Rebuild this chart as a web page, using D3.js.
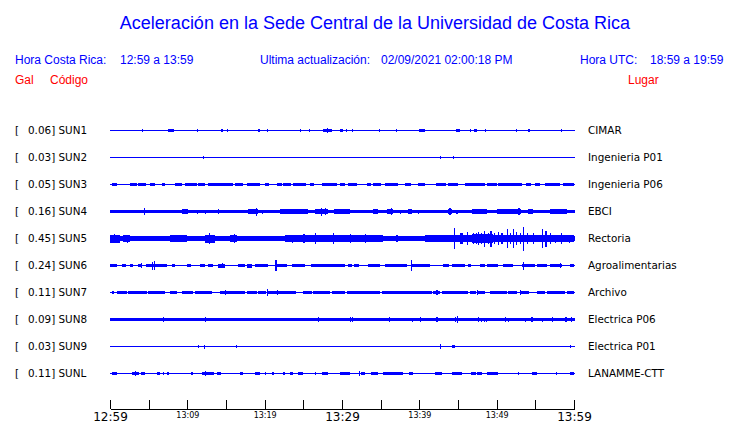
<!DOCTYPE html>
<html><head><meta charset="utf-8">
<script src="https://cdn.jsdelivr.net/npm/d3@7"></script>
<style>
html,body{margin:0;padding:0;background:#fff;}
svg{display:block;}
</style></head>
<body>
<svg id="chart" width="740" height="423"></svg>
<script>
// ---------------- DATA ----------------
const title = "Aceleración en la Sede Central de la Universidad de Costa Rica";
const stations = ["SUN1","SUN2","SUN3","SUN4","SUN5","SUN6","SUN7","SUN8","SUN9","SUNL"];
const peakGal = ["0.06","0.03","0.05","0.16","0.45","0.24","0.11","0.09","0.03","0.11"];
const places = ["CIMAR","Ingenieria P01","Ingenieria P06","EBCI","Rectoria","Agroalimentarias","Archivo","Electrica P06","Electrica P01","LANAMME-CTT"];
const tickMinutes = [0,5,10,15,20,25,30,35,40,45,50,55,60];
const bigTickLabels = ["12:59","13:29","13:59"];
// continuous band half-amplitude (gal) per station
const baseAmp = [0,0,0,0.07,0.1,0,0,0.07,0,0];
// blocks: [startMinute, endMinute, halfAmplitudeGal]
const sun1Blocks = [[7.5,8.3,0.04],[27.5,28.7,0.07],[29.7,30.1,0.06],[40,40.7,0.04],[44.8,45.3,0.04],[47.1,47.5,0.06]];
const sun2Blocks = [];
const sun3Blocks = [[0.2,0.9,0.055],[2.6,3.5,0.055],[3.6,4.7,0.05],[5.2,5.8,0.055],[6.7,7.1,0.055],[8.4,9.3,0.055],[9.7,11.2,0.055],[11.4,12.3,0.055],[12.7,15.9,0.055],[16.2,17.2,0.055],[17.7,19.4,0.055],[20,20.6,0.055],[21.6,22.2,0.055],[22.4,23.4,0.055],[23.7,25.4,0.055],[25.9,26.4,0.055],[27.4,29.3,0.055],[29.7,30.4,0.055],[30.8,31.9,0.055],[33.2,33.8,0.055],[34,35.1,0.055],[35.6,37.3,0.055],[38.1,38.9,0.055],[39.8,40.7,0.055],[42.2,43.5,0.05],[43.7,45,0.05],[45.9,48.5,0.055],[48.8,50,0.055],[50.2,53.3,0.05],[53.8,54.4,0.055],[54.9,55.6,0.055],[56.3,58.2,0.055],[58.6,60,0.055]];
const sun4Blocks = [[9.3,10.1,0.08],[17.8,19.1,0.085],[22,25.6,0.085],[26.5,28.2,0.095],[29,31,0.08],[34,34.7,0.08],[35.8,36.6,0.09],[38.5,39,0.085],[43.7,44.2,0.095],[46.8,48.7,0.085],[50,53.2,0.085],[54,54.7,0.08],[56.9,59.1,0.08]];
const sun5Blocks = [[0,1.3,0.15],[1.7,2.6,0.13],[3.6,4.9,0.11],[7.8,10,0.13],[12.3,13.6,0.15],[15.5,16.4,0.14],[18.8,19.1,0.11],[22.6,35.3,0.13],[37,37.3,0.13],[38.4,39,0.11],[40.7,60,0.14],[46.8,49.5,0.18]];
const sun6Blocks = [[0,0.9,0.055],[1.5,2.1,0.055],[2.6,3,0.055],[3.6,4.1,0.07],[4.6,7.4,0.065],[8,8.4,0.055],[10,10.5,0.055],[11.6,12.3,0.065],[12.7,13.3,0.065],[14,14.9,0.075],[16.5,17.5,0.055],[17.7,18.4,0.075],[18.8,20.4,0.065],[21.3,22.9,0.065],[23.5,25.2,0.055],[26,30.4,0.055],[30.8,31.3,0.055],[31.6,32.2,0.055],[33.4,34.9,0.055],[35.6,38.4,0.06],[39,41.4,0.055],[43.1,43.8,0.055],[44.2,45.9,0.055],[46.3,46.7,0.055],[47.8,48.5,0.055],[48.7,50.2,0.055],[50.8,52.1,0.055],[53.3,55,0.055],[55.2,56.5,0.055],[56.9,58.4,0.055],[59.5,60,0.055]];
const sun7Blocks = [[0.9,2.2,0.062],[2.3,4.8,0.062],[4.9,7.1,0.062],[7.8,8.7,0.062],[9.3,10.7,0.062],[11,13.2,0.062],[14.2,17.5,0.062],[17.7,19,0.062],[19.2,20.2,0.062],[20.4,21.6,0.062],[21.7,24,0.062],[25,26.1,0.062],[26.3,28.5,0.062],[28.7,30.4,0.062],[30.6,34.9,0.062],[35.2,41.6,0.062],[41.8,42.7,0.062],[42.9,46.3,0.062],[46.6,47.3,0.062],[47.6,48.5,0.062],[49.1,51.3,0.062],[51.5,52.6,0.062],[53.2,54.2,0.062],[55.2,56.3,0.062],[56.5,58.8,0.062],[59.1,60,0.062]];
const sun8Blocks = [];
const sun9Blocks = [[44.2,44.6,0.05]];
const sunLBlocks = [[0.2,0.9,0.05],[2.8,3.7,0.065],[4,4.5,0.05],[6.1,6.5,0.065],[6.8,7,0.05],[7.4,7.6,0.05],[10.5,10.7,0.05],[11.9,13.4,0.07],[13.8,14.4,0.05],[16.8,17.2,0.065],[18.8,19.4,0.05],[22.4,22.6,0.05],[23.3,23.7,0.05],[24.3,25,0.05],[27.4,28.2,0.065],[29.7,31,0.05],[32.5,33,0.05],[33.8,34.7,0.05],[35.3,36.2,0.05],[36.2,37.9,0.065],[38.6,39.2,0.05],[42,42.9,0.05],[44.2,45.5,0.065],[46.7,47.3,0.05],[47.4,48.1,0.05],[48.7,50.2,0.04],[54.6,55.2,0.045],[59.5,60,0.065]];
// spikes: [minute, halfAmplitudeGal]
const sun1Spikes = [[4.1,0.06],[11.2,0.05],[14.4,0.05],[15.1,0.04],[19.2,0.06],[20.3,0.05],[24.6,0.05],[25.7,0.04],[28,0.1],[30.5,0.04],[31.3,0.04],[34.8,0.04],[37,0.05],[40.3,0.06],[44.9,0.06],[46.5,0.05],[48.5,0.06],[52.5,0.05],[54.1,0.04],[58.3,0.05]];
const sun2Spikes = [[12,0.04],[42.7,0.04],[44.3,0.05]];
const sun3Spikes = [];
const sun4Spikes = [[4.4,0.13],[11.2,0.075],[12.3,0.075],[14,0.09],[15.6,0.065],[18.9,0.15],[19.6,0.075],[22.5,0.11],[23.4,0.1],[24.2,0.11],[25.1,0.1],[27.3,0.15],[27.8,0.12],[35.9,0.11],[36.3,0.12],[37.5,0.075],[39.8,0.075],[43.9,0.13],[44.8,0.075],[47.3,0.11],[48.1,0.1],[50.5,0.1],[51.4,0.11],[52.2,0.1],[52.8,0.13]];
const sun5Spikes = [[0.5,0.17],[2.2,0.15],[12.8,0.22],[16,0.17],[23.5,0.15],[25,0.17],[26.5,0.21],[28.8,0.21],[31,0.17],[33,0.16],[44.5,0.41],[45.3,0.19],[45.5,0.22],[46.1,0.26],[46.9,0.22],[47.3,0.19],[47.6,0.26],[48,0.22],[48.4,0.3],[48.9,0.22],[49.2,0.3],[49.6,0.19],[50.2,0.26],[50.6,0.22],[51.3,0.37],[51.7,0.22],[52.1,0.37],[52.5,0.26],[53,0.22],[53.4,0.45],[53.9,0.19],[54.7,0.19],[55.8,0.37],[56.3,0.3],[56.9,0.22],[57.5,0.15],[58.3,0.19],[59.3,0.15]];
const sun6Spikes = [[4,0.11],[5.4,0.15],[5.7,0.16],[14.5,0.1],[21.4,0.21],[38.9,0.22],[53.4,0.15],[58.2,0.11]];
const sun7Spikes = [[0.3,0.07],[14.9,0.11],[20.3,0.13],[21.6,0.09],[42.2,0.09],[47.4,0.09],[53,0.09]];
const sun8Spikes = [[6.8,0.11],[12.3,0.11],[26.9,0.09],[31,0.11],[31.3,0.11],[36.1,0.09],[39,0.075],[40.1,0.09],[42.2,0.09],[44.6,0.11],[44.9,0.13],[47.6,0.09],[48,0.075],[48.3,0.075],[48.6,0.075],[51.1,0.09],[51.5,0.075],[53.7,0.075],[54.5,0.09],[55.8,0.075],[57.1,0.09],[58.9,0.09],[59.6,0.11]];
const sun9Spikes = [[11.4,0.055],[12.1,0.075],[16.3,0.04],[42.7,0.09],[59.5,0.055]];
const sunLSpikes = [[3.2,0.09],[12.3,0.11],[20,0.04],[21,0.04],[26.5,0.04],[32.2,0.11],[52.7,0.04],[57.7,0.04]];

const allBlocks = [sun1Blocks,sun2Blocks,sun3Blocks,sun4Blocks,sun5Blocks,sun6Blocks,sun7Blocks,sun8Blocks,sun9Blocks,sunLBlocks];
const allSpikes = [sun1Spikes,sun2Spikes,sun3Spikes,sun4Spikes,sun5Spikes,sun6Spikes,sun7Spikes,sun8Spikes,sun9Spikes,sunLSpikes];

// ---------------- DRAW ----------------
const svg = d3.select("#chart");
const BLUE = "#0000ff", RED = "#ff0000";
const t0 = new Date(2021, 8, 2, 12, 59, 0);
const t1 = new Date(2021, 8, 2, 13, 59, 0);
const atMin = m => new Date(t0.getTime() + m * 60000);
const x = d3.scaleTime().domain([t0, t1]).range([110, 574]);
const y = d3.scalePoint().domain(stations).range([130, 373]);
const amp = d3.scaleLinear().domain([0, 0.45]).range([0, 12]);

const sans = "'Liberation Sans', Arial, Helvetica, sans-serif";
const dejavu = "'DejaVu Sans', Verdana, sans-serif";

svg.append("text").attr("x", 375).attr("y", 29).attr("text-anchor", "middle")
  .attr("font-family", sans).attr("font-size", 18).attr("fill", BLUE).text(title);

const hdr = [
  {t:"Hora Costa Rica:", x:15, c:BLUE, yy:64},
  {t:"12:59 a 13:59", x:120, c:BLUE, yy:64},
  {t:"Ultima actualización:", x:260, c:BLUE, yy:64},
  {t:"02/09/2021 02:00:18 PM", x:381, c:BLUE, yy:64},
  {t:"Hora UTC:", x:580, c:BLUE, yy:64},
  {t:"18:59 a 19:59", x:650, c:BLUE, yy:64},
  {t:"Gal", x:15, c:RED, yy:84},
  {t:"Código", x:50, c:RED, yy:84},
  {t:"Lugar", x:628, c:RED, yy:84}
];
svg.selectAll("text.hdr").data(hdr).enter().append("text").attr("class","hdr")
  .attr("x", d => d.x).attr("y", d => d.yy).attr("font-family", sans).attr("font-size", 12)
  .attr("fill", d => d.c).text(d => d.t);

// row labels
const rows = svg.selectAll("g.row").data(stations).enter().append("g").attr("class","row");
rows.append("text").attr("x", 15).attr("y", d => y(d) + 4)
  .attr("font-family", dejavu).attr("font-size", 10.4).attr("fill","#000").text("[");
rows.append("text").attr("x", 28).attr("y", d => y(d) + 4)
  .attr("font-family", dejavu).attr("font-size", 10.4).attr("fill","#000")
  .text((d,i) => peakGal[i] + "] " + d);
rows.append("text").attr("x", 588).attr("y", d => y(d) + 4)
  .attr("font-family", dejavu).attr("font-size", 10.4).attr("fill","#000")
  .text((d,i) => places[i]);

// traces
const traces = svg.append("g").attr("shape-rendering","crispEdges");
stations.forEach((s, i) => {
  const cy = y(s);
  const g = traces.append("g");
  g.append("rect").attr("x", x(atMin(0))).attr("y", cy).attr("width", x(atMin(60)) - x(atMin(0)) + 1).attr("height", 1).attr("fill", BLUE);
  if (baseAmp[i] > 0) {
    const a = amp(baseAmp[i]);
    g.append("rect").attr("x", x(atMin(0))).attr("y", cy - a + 0.5).attr("width", x(atMin(60)) - x(atMin(0)) + 1)
      .attr("height", 2 * a).attr("fill", BLUE);
  }
  g.selectAll("rect.blk").data(allBlocks[i]).enter().append("rect").attr("class","blk")
    .attr("x", d => x(atMin(d[0]))).attr("width", d => Math.max(1, x(atMin(d[1])) - x(atMin(d[0]))))
    .attr("y", d => cy + 0.5 - amp(d[2])).attr("height", d => 2 * amp(d[2])).attr("fill", BLUE);
  g.selectAll("rect.spk").data(allSpikes[i]).enter().append("rect").attr("class","spk")
    .attr("x", d => x(atMin(d[0]))).attr("width", 1.2)
    .attr("y", d => cy + 0.5 - amp(d[1])).attr("height", d => 2 * amp(d[1])).attr("fill", BLUE);
});

// time axis
const fmt = d3.timeFormat("%H:%M");
const axis = d3.axisBottom(x).tickValues(tickMinutes.map(atMin)).tickSizeInner(-9).tickSizeOuter(0).tickPadding(3.5)
  .tickFormat((d, k) => tickMinutes[k] % 10 === 0 ? fmt(d) : "");
const ag = svg.append("g").attr("transform", "translate(0,409)").call(axis);
ag.select(".domain").attr("stroke", "#000").attr("shape-rendering","crispEdges");
ag.selectAll(".tick line").attr("stroke", "#000").attr("shape-rendering","crispEdges");
ag.selectAll(".tick text").attr("fill", "#000").attr("font-family", dejavu)
  .attr("font-size", d => bigTickLabels.includes(fmt(d)) ? 12 : 8);
</script>
</body></html>
